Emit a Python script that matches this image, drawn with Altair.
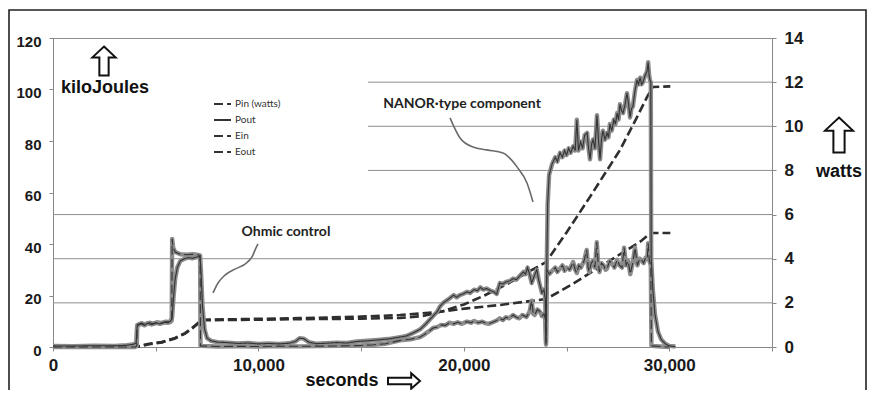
import altair as alt
import pandas as pd

# ---------------- data ----------------
series_names = ["Pin (watts)", "Pout", "Ein", "Eout"]

# Pout (watts, right axis)
pout_t = [0, 1000, 2000, 3000, 3600, 3900, 4050, 4090, 4150, 4300, 4450, 4600, 4800, 5000, 5200, 5400,
          5600, 5750, 5800, 5870, 5950, 6050, 6200, 6400, 6600, 6800, 7000, 7150, 7200, 7280, 7380, 7500,
          7700, 8000, 8500, 9000, 9500, 10000, 10500, 11000, 11500, 11800, 12000, 12200, 12450, 12800,
          13300, 13800, 14300, 14800, 15300, 15800, 16300, 16900, 17200, 17500, 17870, 18100, 18300,
          18500, 18700, 18850, 19000, 19150, 19300, 19500, 19650, 19800, 19950, 20150, 20300, 20500,
          20650, 20800, 20950, 21100, 21300, 21450, 21600, 21750, 21900, 22050, 22250, 22400, 22550,
          22700, 22900, 23000, 23100, 23200, 23300, 23420, 23550, 23650, 23800, 23900, 23960, 24000,
          24040, 24080, 24150, 24300, 24450, 24550, 24680, 24800, 24900, 25000, 25100, 25200, 25320,
          25420, 25500, 25580, 25680, 25780, 25880, 26000, 26070, 26140, 26220, 26290, 26380, 26480,
          26560, 26630, 26700, 26770, 26870, 26970, 27040, 27110, 27200, 27300, 27380, 27460, 27530,
          27600, 27680, 27750, 27850, 27940, 28020, 28090, 28160, 28230, 28330, 28430, 28500, 28580,
          28650, 28720, 28820, 28920, 28970, 29020, 29060, 29100, 29120, 29200, 29300, 29450, 29600,
          29800, 30000, 30300]
pout_w = [0.05, 0.04, 0.06, 0.05, 0.08, 0.12, 0.18, 0.9, 1.0, 1.05, 0.98, 1.08, 1.02, 1.1, 1.05, 1.12,
          1.1, 1.2, 1.35, 2.3, 3.1, 3.6, 3.9, 4.0, 4.05, 4.02, 4.08, 4.1, 3.5, 1.8, 0.8, 0.4,
          0.28, 0.22, 0.2, 0.16, 0.18, 0.14, 0.16, 0.14, 0.17, 0.25, 0.4, 0.38, 0.22, 0.15,
          0.17, 0.2, 0.18, 0.25, 0.28, 0.32, 0.36, 0.45, 0.5, 0.62, 0.8, 1.0, 1.2,
          1.4, 1.6, 1.85, 2.0, 2.1, 2.2, 2.35, 2.25, 2.35, 2.4, 2.5, 2.45, 2.6,
          2.55, 2.7, 2.6, 2.65, 2.55, 2.5, 2.4, 2.9, 2.85, 2.95, 3.0, 3.1, 3.05,
          3.2, 3.4, 3.3, 3.6, 3.3, 2.9, 3.2, 3.5, 3.0, 2.45, 2.6, 2.2, 0.1,
          4.0, 6.5, 7.8, 8.3, 8.6, 8.4, 8.8, 8.6, 8.9, 8.7, 9.0, 8.8, 9.1,
          8.9, 10.3, 8.9, 9.3, 9.0, 9.6, 9.7, 9.0, 8.5, 9.2, 9.4, 9.0, 10.5,
          9.3, 8.5, 9.4, 9.8, 9.4, 9.7, 9.5, 10.1, 9.8, 10.3, 10.1, 10.6, 10.3,
          11.0, 10.7, 10.6, 11.0, 11.5, 11.0, 10.4, 10.8, 10.9, 11.6, 12.1, 11.9, 12.2,
          11.9, 12.0, 12.3, 12.5, 12.9, 12.3, 12.1, 12.0, 4.0, 2.6, 1.5, 0.7, 0.35,
          0.15, 0.05, 0.02]

# Pin (watts, right axis)
pin_t = [0, 1000, 2000, 3000, 4000, 4080, 4100, 4300, 4500, 4700, 4900, 5100, 5300, 5500, 5700, 5780,
         5800, 5850, 5950, 6200, 6500, 6800, 7000, 7160, 7180, 8000, 9000, 10000, 11000, 12000, 13000,
         14000, 15000, 15600, 16200, 16900, 17400, 17870, 18050, 18200, 18350, 18500, 18700, 18900,
         19100, 19300, 19500, 19700, 19900, 20150, 20350, 20500, 20700, 20900, 21050, 21200, 21400,
         21600, 21750, 21900, 22050, 22200, 22400, 22550, 22700, 22850, 23050, 23200, 23300, 23380,
         23450, 23580, 23700, 23800, 23900, 23960, 24000, 24040, 24150, 24300, 24450, 24550, 24680,
         24800, 24900, 25000, 25150, 25320, 25420, 25500, 25600, 25700, 25850, 25980, 26050, 26100,
         26200, 26280, 26380, 26470, 26530, 26600, 26700, 26800, 26900, 26970, 27100, 27200, 27330,
         27460, 27580, 27700, 27800, 27900, 28000, 28100, 28220, 28330, 28450, 28550, 28650, 28750,
         28850, 28930, 28970, 29030, 29100, 29130, 29600, 30000]
pin_w = [0.0, 0.0, 0.0, 0.0, 0.0, 0.05, 1.0, 1.08, 1.02, 1.1, 1.05, 1.12, 1.08, 1.15, 1.12, 1.2,
         4.9, 4.5, 4.3, 4.2, 4.18, 4.2, 4.18, 4.15, 0.05, 0.02, 0.03, 0.02, 0.04, 0.03, 0.04,
         0.05, 0.07, 0.1, 0.15, 0.3, 0.35, 0.45, 0.55, 0.65, 0.75, 0.86, 0.9, 1.0,
         0.98, 1.1, 1.05, 1.12, 1.05, 1.15, 1.1, 1.18, 1.1, 1.15, 1.08, 1.05, 1.12,
         1.2, 1.3, 1.22, 1.35, 1.3, 1.45, 1.35, 1.3, 1.45, 1.36, 1.6, 2.1, 1.5,
         1.45, 1.7, 1.6, 1.4, 1.5, 1.3, 0.2, 3.5, 3.3, 3.45, 3.6, 3.4, 3.55,
         3.7, 3.45, 3.6, 3.5, 3.85, 3.5, 3.35, 3.7, 3.6, 3.9, 4.4, 3.6, 3.4,
         3.8, 3.9, 3.6, 4.75, 3.9, 3.4, 3.8, 3.7, 3.5, 3.55, 3.9, 3.8, 3.6,
         3.95, 3.7, 3.6, 4.5, 3.7, 3.9, 3.3, 3.8, 4.5, 3.7, 4.0, 3.95, 3.8,
         4.05, 4.0, 4.7, 3.9, 3.7, 0.05, 0.02, 0.0]

# Ein (kiloJoules, left axis)
ein_t = [0, 4000, 4300, 4620, 5300, 5940, 6430, 6770, 7060, 7200, 9000, 12000, 15000, 16900, 18500,
         20150, 21750, 22900, 24000, 25300, 26500, 27800, 28600, 29100, 30050]
ein_kj = [0, 0, 0.5, 1.2, 1.9, 3.5, 5.4, 7.4, 9.3, 10.6, 10.8, 11.2, 11.8, 12.4, 13.4,
          15.0, 16.3, 17.5, 18.6, 24.5, 30.5, 37.0, 41.0, 44.3, 44.3]

# Eout (kiloJoules, left axis)
eout_t = [0, 4000, 4300, 4620, 5300, 5940, 6430, 6770, 7060, 7200, 9000, 12000, 15000, 16900, 18000,
          19000, 20000, 21000, 22000, 23000, 24000, 25000, 26140, 27600, 28430, 28920, 29200, 30050]
eout_kj = [0, 0, 0.4, 1.0, 1.8, 3.3, 5.2, 7.2, 9.1, 10.4, 10.5, 10.8, 11.0, 11.3, 12.0,
           14.0, 16.5, 20.0, 24.0, 28.5, 33.0, 44.5, 58.3, 76.5, 89.3, 97.1, 101.0, 101.2]

# horizontal grid lines (watts) and where each one starts (seconds)
grid_levels = [2, 4, 6, 8, 10, 12]
grid_start = [0, 0, 0, 15330, 15330, 15330]

# tick values
x_ticks = [0, 5000, 10000, 15000, 20000, 25000, 30000, 35000]
kj_ticks = [0, 20, 40, 60, 80, 100, 120]
w_ticks = [0, 2, 4, 6, 8, 10, 12, 14]

# annotation leader curves (seconds, watts)
nanor_t = [19326, 19813, 20446, 21127, 21906, 22588, 23074, 23366]
nanor_w = [10.38, 9.47, 9.06, 8.93, 8.79, 8.16, 7.43, 6.57]
ohmic_t = [7789, 8032, 8373, 8860, 9347, 9687, 9882, 9979]
ohmic_w = [2.45, 2.9, 3.26, 3.53, 3.76, 4.08, 4.49, 4.67]

notes_text = ["Ohmic control", "NANOR\u00b7type component"]
notes_t = [11342, 19910]
notes_w = [5.21, 11.01]

# ---------------- tables ----------------
power_df = pd.concat([
    pd.DataFrame({"t": pin_t, "v": pin_w, "series": series_names[0]}),
    pd.DataFrame({"t": pout_t, "v": pout_w, "series": series_names[1]}),
], ignore_index=True)
energy_df = pd.concat([
    pd.DataFrame({"t": ein_t, "v": ein_kj, "series": series_names[2]}),
    pd.DataFrame({"t": eout_t, "v": eout_kj, "series": series_names[3]}),
], ignore_index=True)
grid_df = pd.DataFrame({"level": grid_levels, "x0": grid_start, "x1": [x_ticks[-1]] * len(grid_levels)})
lead_df = pd.concat([
    pd.DataFrame({"t": nanor_t, "v": nanor_w, "name": "nanor"}),
    pd.DataFrame({"t": ohmic_t, "v": ohmic_w, "name": "ohmic"}),
], ignore_index=True)
notes_df = pd.DataFrame({"t": notes_t, "v": notes_w, "text": notes_text})
one = pd.DataFrame({"k": [0]})

# ---------------- scales / axes ----------------
AX_FONT = "Liberation Sans"
x_scale = alt.Scale(domain=[x_ticks[0], x_ticks[-1]], nice=False, zero=False)
kj_scale = alt.Scale(domain=[kj_ticks[0], kj_ticks[-1]], nice=False)
w_scale = alt.Scale(domain=[w_ticks[0], w_ticks[-1]], nice=False)
dash_scale = alt.Scale(domain=series_names, range=[[9, 4], [1, 0], [9, 4], [9, 4]])

legend = alt.Legend(title=None, orient="none", legendX=160, legendY=56.5, symbolType="stroke",
                    symbolSize=289, symbolStrokeWidth=2, symbolStrokeColor="#333",
                    labelFont="Lato", labelFontSize=10, labelColor="#333", rowPadding=1,
                    labelOffset=3, padding=0)

x_axis = alt.Axis(values=x_ticks, labelExpr="datum.value % 10000 === 0 ? format(datum.value, ',') : ''",
                  labelFont=AX_FONT, labelFontWeight="bold", labelFontSize=17, labelColor="#1a1a1a",
                  labelPadding=6, labelFlush=False, labelOverlap=False, tickSize=4, tickColor="#888",
                  domainColor="#888", grid=False, title=None)
left_axis = alt.Axis(orient="left", values=kj_ticks, labelFont=AX_FONT, labelFontWeight="bold",
                     labelFontSize=15, labelColor="#1a1a1a", labelPadding=8, labelOffset=3,
                     tickSize=4, tickColor="#888", domainColor="#888", grid=False, title=None)
right_axis = alt.Axis(orient="right", values=w_ticks, labelFont=AX_FONT, labelFontWeight="bold",
                      labelFontSize=17, labelColor="#1a1a1a", labelPadding=8, tickSize=4,
                      tickColor="#888", domainColor="#888", grid=False, title=None)

X = alt.X("t:Q", scale=x_scale, axis=x_axis)

# ---------------- layers ----------------
grid = alt.Chart(grid_df).mark_rule(color="#8e8e8e", strokeWidth=1).encode(
    x=alt.X("x0:Q", scale=x_scale, axis=x_axis), x2="x1:Q",
    y=alt.Y("level:Q", scale=w_scale, axis=None))
grid_group = alt.layer(grid)

energy_lines = alt.Chart(energy_df).mark_line(color="#2e2e2e", strokeWidth=2.6).encode(
    x=X,
    y=alt.Y("v:Q", scale=kj_scale, axis=left_axis),
    strokeDash=alt.StrokeDash("series:N", scale=dash_scale, legend=legend))
energy_group = alt.layer(energy_lines)

band = alt.Chart(power_df).mark_line(color="#8c8c8c", strokeWidth=4.4, strokeJoin="round").encode(
    x=X,
    y=alt.Y("v:Q", scale=w_scale, axis=right_axis),
    detail="series:N")
power_lines = alt.Chart(power_df).mark_line(color="#333", strokeWidth=1.1).encode(
    x=X,
    y=alt.Y("v:Q", scale=w_scale, axis=right_axis),
    strokeDash=alt.StrokeDash("series:N", scale=dash_scale, legend=legend))
leaders = alt.Chart(lead_df).mark_line(color="#6a6a6a", strokeWidth=1.6, interpolate="monotone").encode(
    x=X,
    y=alt.Y("v:Q", scale=w_scale, axis=right_axis),
    detail="name:N")
notes = alt.Chart(notes_df).mark_text(font="Lato", fontWeight="bold", fontSize=14, color="#222").encode(
    x=X,
    y=alt.Y("v:Q", scale=w_scale, axis=right_axis),
    text="text:N")

UP = "M0,-1 L0.8,-0.25 L0.32,-0.25 L0.32,1 L-0.32,1 L-0.32,-0.25 L-0.8,-0.25 Z"
RIGHT = "M1,0 L0.45,-0.48 L0.45,-0.2 L-1,-0.2 L-1,0.2 L0.45,0.2 L0.45,0.48 Z"

def label(txt, x, y, size=18):
    return alt.Chart(one).mark_text(font=AX_FONT, fontWeight="bold", fontSize=size, color="#111").encode(
        x=alt.value(x), y=alt.value(y), text=alt.value(txt))

def arrow(shape, x, y, size):
    return alt.Chart(one).mark_point(shape=shape, filled=False, stroke="#111", strokeWidth=2,
                                     opacity=1, size=size).encode(x=alt.value(x), y=alt.value(y))

frame = alt.Chart(one).mark_rect(fillOpacity=0, stroke="#222", strokeWidth=1.6).encode(
    x=alt.value(-44), x2=alt.value(813), y=alt.value(-28), y2=alt.value(370))

power_group = alt.layer(
    band, power_lines, leaders, notes,
    label("kiloJoules", 52, 50), arrow(UP, 51, 23, 841),
    label("watts", 786, 134), arrow(UP, 786, 97, 1225),
    label("seconds", 289, 343), arrow(RIGHT, 351, 343, 1024),
    frame)

chart = alt.layer(grid_group, energy_group, power_group).resolve_scale(y="independent").properties(
    width=719, height=309,
    padding={"left": 45, "top": 30, "right": 96, "bottom": 43},
    autosize=alt.AutoSizeParams(type="none"),
    background="white",
).configure_view(stroke="#8e8e8e", strokeWidth=1)

chart.save("out.html", embed_options={"renderer": "svg", "actions": False})
